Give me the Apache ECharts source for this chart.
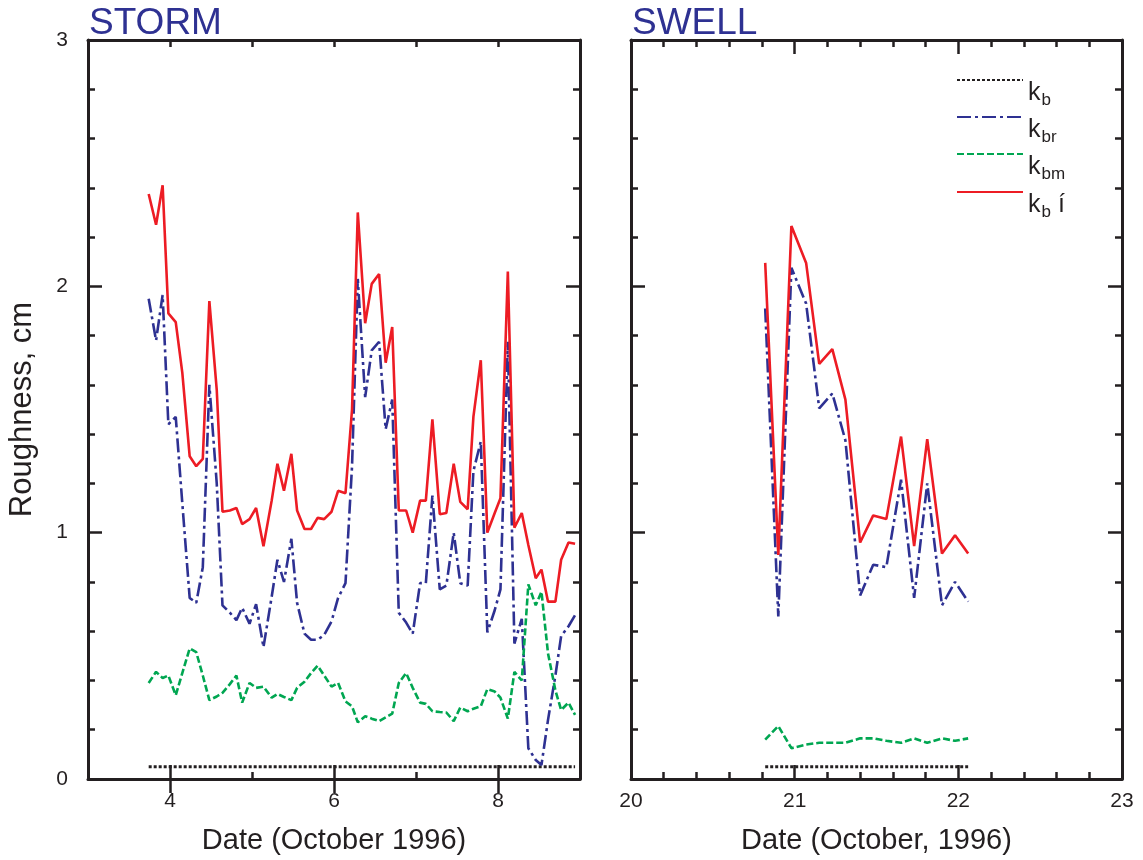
<!DOCTYPE html>
<html><head><meta charset="utf-8">
<script src="https://cdn.jsdelivr.net/npm/echarts@6/dist/echarts.min.js"></script>
<style>html,body{margin:0;padding:0;background:#fff}#c{width:1143px;height:860px}</style>
</head><body><div id="c"></div>
<script>
// ---------- DATA ----------
const stormDays = [3.74,3.83,3.91,3.98,4.07,4.15,4.24,4.32,4.40,4.48,4.57,4.64,4.73,4.81,4.88,4.97,5.05,5.14,5.24,5.31,5.39,5.48,5.55,5.64,5.72,5.80,5.88,5.97,6.05,6.14,6.22,6.29,6.38,6.46,6.55,6.63,6.71,6.79,6.88,6.96,7.05,7.12,7.20,7.29,7.37,7.46,7.54,7.63,7.70,7.79,7.87,7.96,8.03,8.12,8.20,8.29,8.37,8.46,8.53,8.61,8.70,8.77,8.86,8.94];
const stormKb = [0.05,0.05,0.05,0.05,0.05,0.05,0.05,0.05,0.05,0.05,0.05,0.05,0.05,0.05,0.05,0.05,0.05,0.05,0.05,0.05,0.05,0.05,0.05,0.05,0.05,0.05,0.05,0.05,0.05,0.05,0.05,0.05,0.05,0.05,0.05,0.05,0.05,0.05,0.05,0.05,0.05,0.05,0.05,0.05,0.05,0.05,0.05,0.05,0.05,0.05,0.05,0.05,0.05,0.05,0.05,0.05,0.05,0.05,0.05,0.05,0.05,0.05,0.05,0.05];
const stormKbr = [1.95,1.78,1.965,1.44,1.47,1.12,0.735,0.715,0.86,1.60,1.20,0.705,0.675,0.645,0.695,0.63,0.71,0.535,0.74,0.89,0.80,0.975,0.715,0.59,0.565,0.565,0.585,0.64,0.735,0.795,1.27,2.03,1.55,1.74,1.775,1.42,1.54,0.675,0.635,0.59,0.795,0.795,1.15,0.77,0.785,1.00,0.795,0.785,1.25,1.37,0.595,0.685,0.77,1.775,0.55,0.65,0.125,0.077,0.057,0.24,0.42,0.58,0.62,0.665];
const stormKbm = [0.39,0.435,0.41,0.42,0.34,0.43,0.53,0.515,0.42,0.32,0.335,0.35,0.385,0.42,0.31,0.39,0.37,0.375,0.33,0.345,0.333,0.32,0.37,0.395,0.43,0.46,0.42,0.375,0.39,0.315,0.295,0.23,0.255,0.245,0.235,0.25,0.265,0.39,0.43,0.37,0.31,0.305,0.275,0.272,0.27,0.235,0.29,0.275,0.285,0.295,0.365,0.355,0.33,0.245,0.435,0.40,0.79,0.705,0.76,0.51,0.36,0.28,0.31,0.26];
const stormKbPrime = [2.375,2.25,2.41,1.89,1.855,1.65,1.31,1.27,1.30,1.94,1.58,1.085,1.09,1.10,1.035,1.055,1.10,0.945,1.13,1.28,1.17,1.32,1.09,1.015,1.015,1.06,1.055,1.085,1.17,1.16,1.50,2.30,1.85,2.01,2.05,1.69,1.835,1.09,1.09,1.00,1.13,1.13,1.46,1.075,1.08,1.28,1.125,1.095,1.47,1.70,1.00,1.08,1.14,2.06,1.02,1.08,0.95,0.815,0.85,0.72,0.72,0.89,0.96,0.955];

const swellDays = [20.82,20.90,20.98,21.07,21.15,21.23,21.31,21.40,21.48,21.56,21.65,21.73,21.81,21.90,21.98,22.06];
const swellKb = [0.05,0.05,0.05,0.05,0.05,0.05,0.05,0.05,0.05,0.05,0.05,0.05,0.05,0.05,0.05,0.05];
const swellKbr = [1.91,0.66,2.075,1.93,1.505,1.565,1.375,0.745,0.87,0.86,1.215,0.735,1.20,0.705,0.80,0.72];
const swellKbm = [0.16,0.215,0.125,0.14,0.147,0.147,0.147,0.165,0.165,0.155,0.147,0.165,0.147,0.165,0.155,0.165];
const swellKbPrime = [2.095,0.91,2.245,2.095,1.685,1.745,1.54,0.96,1.07,1.055,1.39,0.945,1.38,0.915,0.99,0.915];

const seriesNames = ['k_b','k_br','k_bm','k_bí'];
const panelTitles = ['STORM','SWELL'];
const xAxisNames = ['Date (October 1996)','Date (October, 1996)'];
const yAxisName = 'Roughness, cm';
const stormMajorTicks = [4,6,8];

// ---------- STYLE ----------
const INK = '#231f20';
const FONT = 'Liberation Sans, Arial, Helvetica, sans-serif';
const colors = { 'k_b': '#231f20', 'k_br': '#2e3192', 'k_bm': '#00a651', 'k_bí': '#ed1c24' };
const dashes = { 'k_b': [3,2], 'k_br': [14,4,3,4], 'k_bm': [7,3], 'k_bí': 'solid' };
const widths = { 'k_b': 3, 'k_br': 2.6, 'k_bm': 2.6, 'k_bí': 2.6 };

const grids = [
  { left: 88, top: 40, width: 492, height: 739, containLabel: false, outerBoundsMode: 'none' },
  { left: 631, top: 40, width: 491, height: 739, containLabel: false, outerBoundsMode: 'none' }
];

const lineAx = { show: true, onZero: false, lineStyle: { color: INK, width: 3 } };
const tickStyle = { color: INK, width: 2.5 };
const labelStyle = { color: INK, fontSize: 21, fontFamily: FONT };

function xAx(grid, pos, opts) {
  return Object.assign({
    type: 'value', gridIndex: grid, position: pos,
    splitLine: { show: false }, axisLine: lineAx,
    axisLabel: { show: false }
  }, opts);
}
const xAxes = [
  xAx(0, 'bottom', { min: 3, max: 9, interval: 1,
    axisTick: { inside: true, length: 7, lineStyle: tickStyle },
    axisLabel: Object.assign({ show: true, margin: 12, formatter: v => (stormMajorTicks.indexOf(v) >= 0 ? String(v) : '') }, labelStyle),
    name: xAxisNames[0], nameLocation: 'middle', nameGap: 47,
    nameTextStyle: { color: INK, fontSize: 29, fontFamily: FONT } }),
  xAx(0, 'bottom', { min: 3, max: 9, axisLine: { show: false },
    axisTick: { inside: true, length: 14, lineStyle: tickStyle, customValues: stormMajorTicks } }),
  xAx(0, 'top', { min: 3, max: 9, interval: 1,
    axisTick: { inside: true, length: 7, lineStyle: tickStyle } }),
  xAx(0, 'top', { min: 3, max: 9, axisLine: { show: false },
    axisTick: { inside: true, length: 14, lineStyle: tickStyle, customValues: stormMajorTicks } }),
  xAx(1, 'bottom', { min: 20, max: 23, interval: 1,
    axisTick: { inside: true, length: 14, lineStyle: tickStyle },
    minorTick: { show: true, splitNumber: 5, length: 7, lineStyle: tickStyle },
    axisLabel: Object.assign({ show: true, margin: 12, showMinLabel: true, showMaxLabel: true }, labelStyle),
    name: xAxisNames[1], nameLocation: 'middle', nameGap: 47,
    nameTextStyle: { color: INK, fontSize: 29, fontFamily: FONT } }),
  xAx(1, 'top', { min: 20, max: 23, interval: 1,
    axisTick: { inside: true, length: 14, lineStyle: tickStyle },
    minorTick: { show: true, splitNumber: 5, length: 7, lineStyle: tickStyle } })
];

function yAx(grid, pos, withLabel) {
  const a = {
    type: 'value', gridIndex: grid, position: pos, min: 0, max: 3, interval: 1,
    splitLine: { show: false }, axisLine: lineAx,
    axisTick: { inside: true, length: 14, lineStyle: tickStyle },
    minorTick: { show: true, splitNumber: 5, length: 7, lineStyle: tickStyle },
    axisLabel: { show: false }
  };
  if (withLabel) {
    a.axisLabel = Object.assign({ show: true, margin: 20, showMinLabel: true, showMaxLabel: true }, labelStyle);
    a.name = yAxisName; a.nameLocation = 'middle'; a.nameGap = 50; a.nameRotate = 90;
    a.nameTextStyle = { color: INK, fontSize: 31, fontFamily: FONT };
  }
  return a;
}
const yAxes = [ yAx(0, 'left', true), yAx(0, 'right', false), yAx(1, 'left', false), yAx(1, 'right', false) ];

function zip(xs, ys) { return xs.map((x, i) => [x, ys[i]]); }
function mk(name, xs, ys, xi, yi) {
  return {
    name: name, type: 'line', xAxisIndex: xi, yAxisIndex: yi,
    data: zip(xs, ys), symbol: 'none', showSymbol: false, clip: true,
    lineStyle: { color: colors[name], width: widths[name], type: dashes[name] },
    itemStyle: { color: colors[name] },
    emphasis: { disabled: true }, animation: false
  };
}
const stormSets = [stormKb, stormKbr, stormKbm, stormKbPrime];
const swellSets = [swellKb, swellKbr, swellKbm, swellKbPrime];
const series = [];
seriesNames.forEach((n, i) => series.push(mk(n, stormDays, stormSets[i], 0, 0)));
seriesNames.forEach((n, i) => series.push(mk(n, swellDays, swellSets[i], 4, 2)));

const legendRich = {
  k: { fontSize: 25, fontFamily: FONT, color: INK, lineHeight: 28, verticalAlign: 'top' },
  s: { fontSize: 17, fontFamily: FONT, color: INK, lineHeight: 17, verticalAlign: 'bottom', padding: [17, 0, 0, 1] }
};
const legendFmt = {
  'k_b': '{k|k}{s|b}', 'k_br': '{k|k}{s|br}', 'k_bm': '{k|k}{s|bm}', 'k_bí': '{k|k}{s|b}{k| í}'
};
const legendLineY = [82, 119, 156, 194];
const legends = seriesNames.map((n, i) => ({
  data: [n], orient: 'vertical', left: 956, top: legendLineY[i] - 40 + 6, padding: 0,
  itemWidth: 66, itemHeight: 80, selectedMode: false,
  itemStyle: { opacity: 0 },
  formatter: nm => legendFmt[nm],
  textStyle: { rich: legendRich, padding: [30, 0, 0, 0] }
}));

const titles = panelTitles.map((t, i) => ({
  text: t, left: grids[i].left + 1, top: 5, padding: 0,
  textStyle: { color: '#2e3192', fontSize: 37, fontWeight: 'normal', fontFamily: FONT }
}));

const chart = echarts.init(document.getElementById('c'), null, { renderer: 'canvas' });
chart.setOption({
  backgroundColor: '#ffffff',
  animation: false,
  title: titles,
  legend: legends,
  grid: grids,
  xAxis: xAxes,
  yAxis: yAxes,
  series: series
});
</script>
</body></html>
